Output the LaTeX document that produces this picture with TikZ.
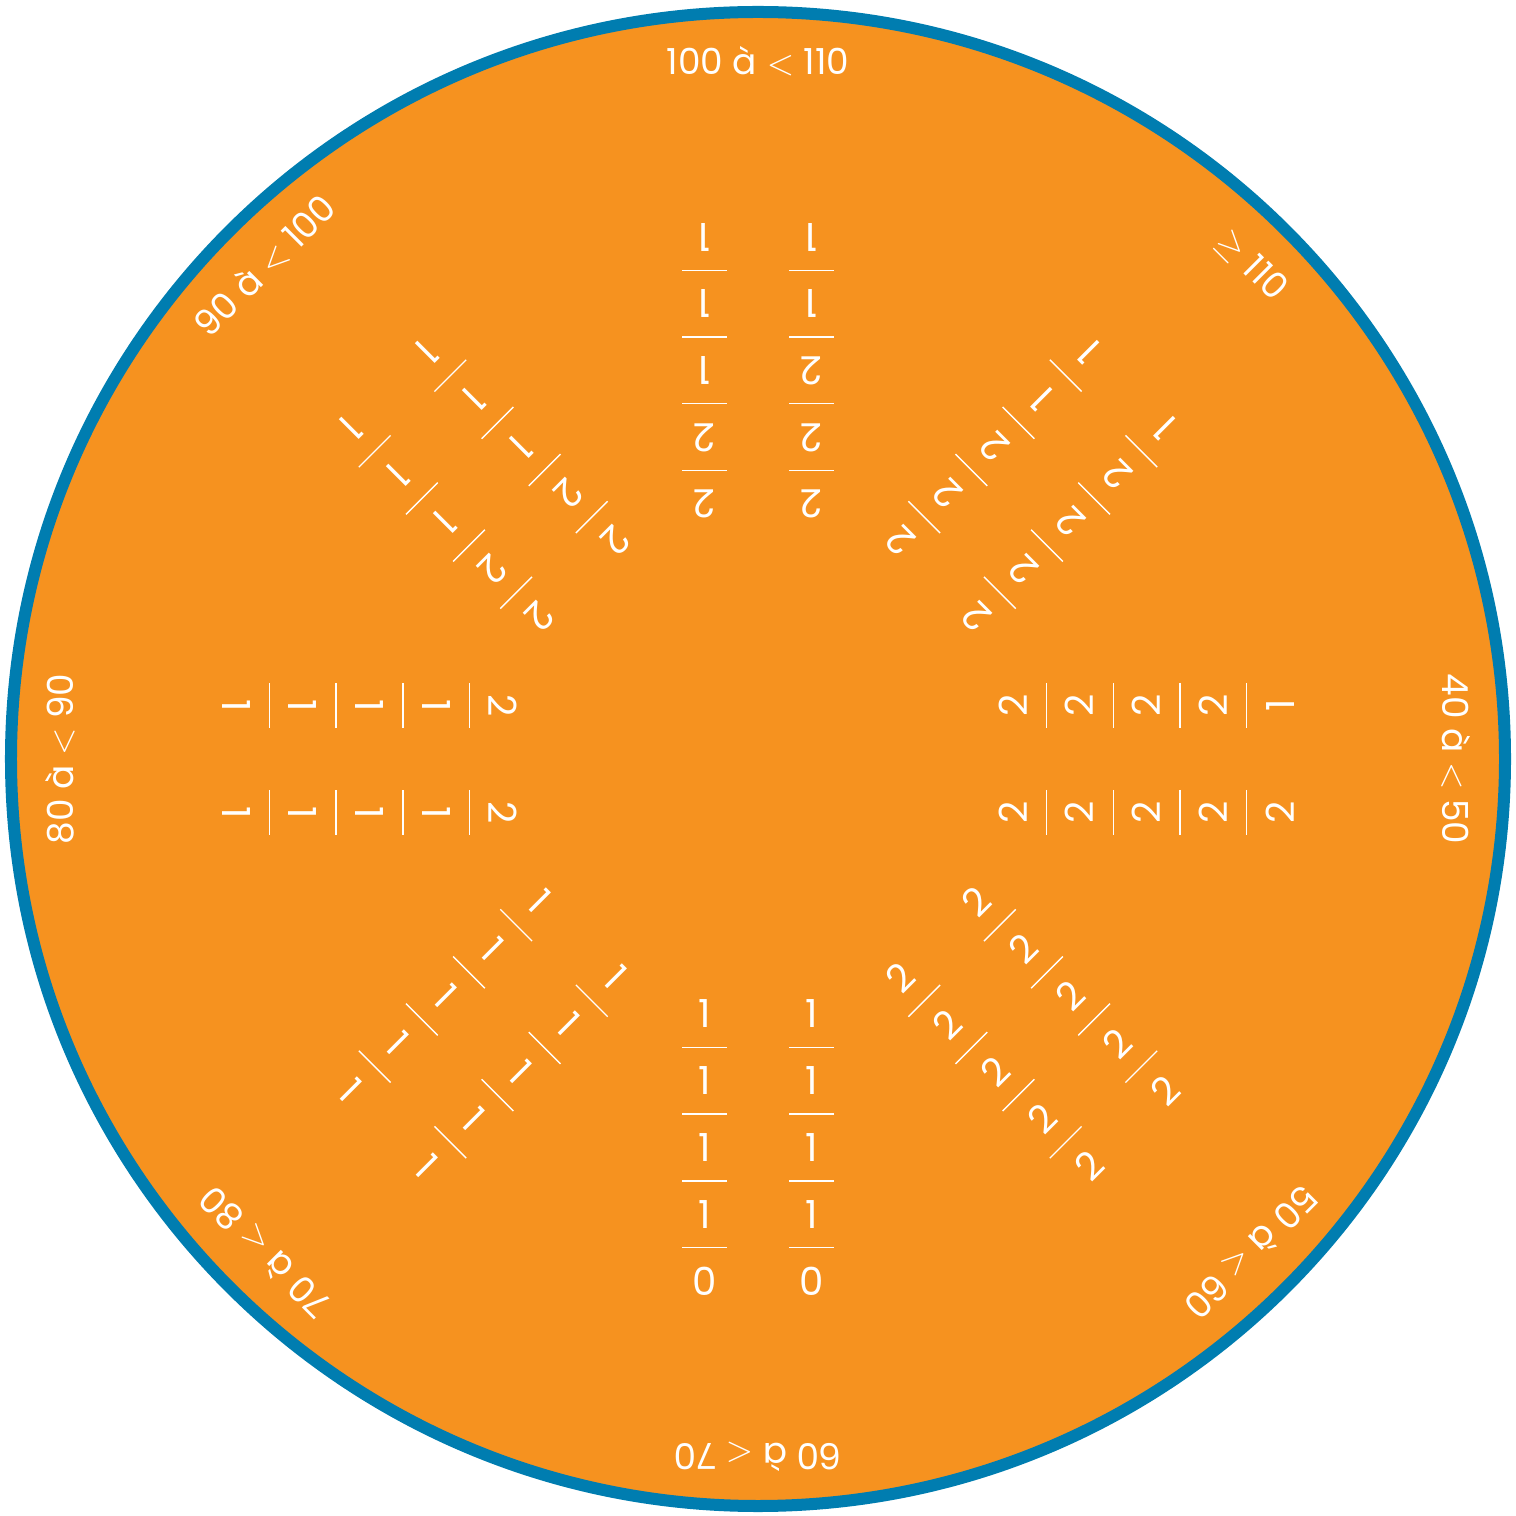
\documentclass[tikz,border=0pt]{standalone}
\usepackage{fontspec}
\setmainfont{Poppins}
\usepackage{xcolor}
\definecolor{ringblue}{RGB}{0,125,176}
\definecolor{discorange}{RGB}{246,146,31}

\tikzset{
  digit/.style={text=white, inner sep=0pt, font=\fontsize{11}{13}\selectfont},
  rimlabel/.style={text=white, inner sep=0pt, font=\fontsize{10.2}{12}\selectfont},
  scorebar/.style={white, line width=0.4pt}
}

% one row of five scores, from the centre outwards
\newcommand{\digitrow}[4]{%
  \foreach \v [count=\i] in #4
    \node[digit, rotate=#1+90] (d#1#2-\i) at (#3, {188.25+66.75*\i}) {\v};
}

\begin{document}
\begin{tikzpicture}[x=0.01cm, y=0.01cm]

% the frame of the picture
\useasboundingbox (-758,-757) rectangle (758,759);

% we draw the disc with its blue rim
\draw[ringblue, line width=0.12cm, fill=discorange] (0,0) circle (747);

% the classes written along the rim
\foreach \ang/\txt in {90/{100 à $<$ 110}, 45/{$\geq$ 110}, 0/{40 à $<$ 50}, -45/{50 à $<$ 60},
                       -90/{60 à $<$ 70}, -135/{70 à $<$ 80}, 180/{80 à $<$ 90}, 135/{90 à $<$ 100}}
  \node[rimlabel, rotate=\ang-90] (lab\ang) at (\ang:698) {\txt};

% two rows of scores in every sector
\foreach \ang/\ra/\rb in {90/{2,2,1,1,1}/{2,2,2,1,1}, 45/{2,2,2,1,1}/{2,2,2,2,1},
                          0/{2,2,2,2,1}/{2,2,2,2,2}, -45/{2,2,2,2,2}/{2,2,2,2,2},
                          -90/{1,1,1,1,0}/{1,1,1,1,0}, -135/{1,1,1,1,1}/{1,1,1,1,1},
                          180/{2,1,1,1,1}/{2,1,1,1,1}, 135/{2,2,1,1,1}/{2,2,1,1,1}}
{
  \begin{scope}[rotate=\ang-90]
    \digitrow{\ang}{a}{-53.5}{\ra}
    \digitrow{\ang}{b}{53.5}{\rb}
    % the short bars between the scores
    \foreach \r in {288.5,355.2,421.9,488.6}
      \draw[scorebar] (-76,\r) -- (-31,\r) (31,\r) -- (76,\r);
  \end{scope}
}

\end{tikzpicture}
\end{document}
